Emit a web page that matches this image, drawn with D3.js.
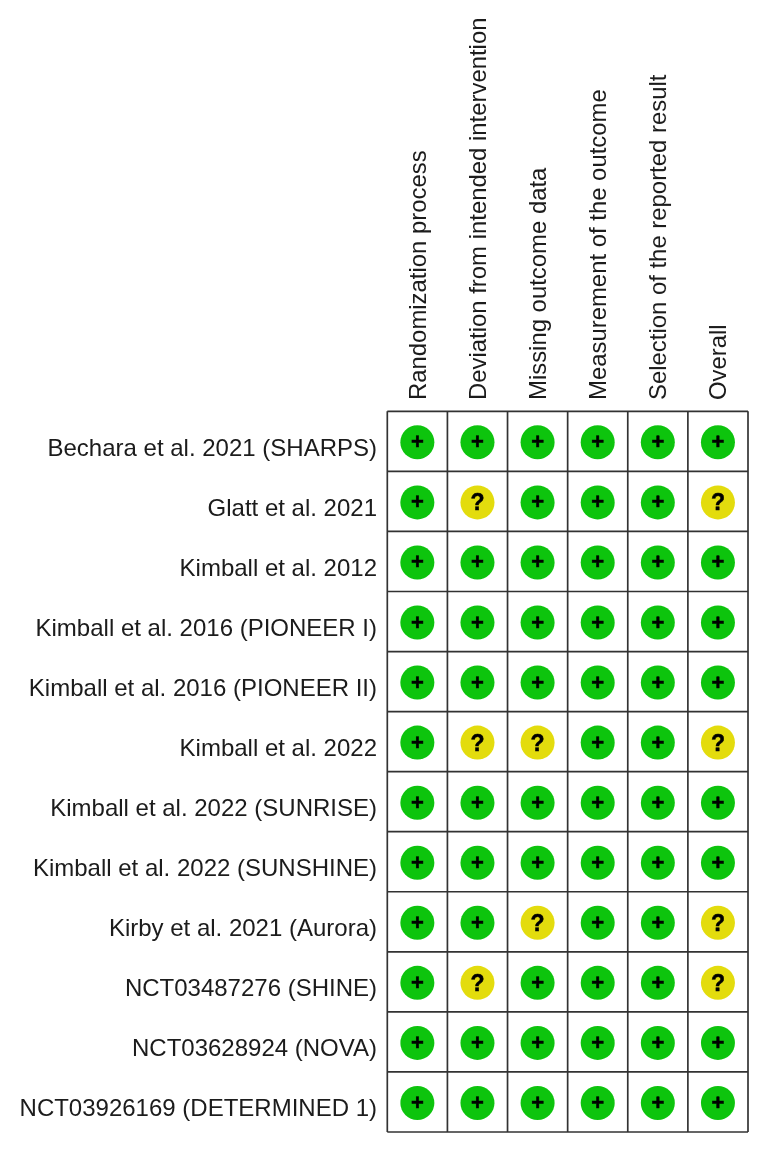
<!DOCTYPE html>
<html>
<head>
<meta charset="utf-8">
<script src="https://cdn.jsdelivr.net/npm/d3@7"></script>
<style>
  html, body { margin: 0; padding: 0; background: #fff; }
  text { font-family: "Liberation Sans", Arial, sans-serif; fill: #1a1a1a; }
</style>
</head>
<body>
<svg id="chart"></svg>
<script>
const width = 771;
const height = 1154;

const domains = [
  "Randomization process",
  "Deviation from intended intervention",
  "Missing outcome data",
  "Measurement of the outcome",
  "Selection of the reported result",
  "Overall"
];

const studies = [
  "Bechara et al. 2021 (SHARPS)",
  "Glatt et al. 2021",
  "Kimball et al. 2012",
  "Kimball et al. 2016 (PIONEER I)",
  "Kimball et al. 2016 (PIONEER II)",
  "Kimball et al. 2022",
  "Kimball et al. 2022 (SUNRISE)",
  "Kimball et al. 2022 (SUNSHINE)",
  "Kirby et al. 2021 (Aurora)",
  "NCT03487276 (SHINE)",
  "NCT03628924 (NOVA)",
  "NCT03926169 (DETERMINED 1)"
];

// one string per study, one symbol per domain
const ratings = [
  "++++++",
  "+?+++?",
  "++++++",
  "++++++",
  "++++++",
  "+??++?",
  "++++++",
  "++++++",
  "++?++?",
  "+?+++?",
  "++++++",
  "++++++"
];

const colors = { "+": "#0cc40c", "?": "#e3dc0c" };

let svg = d3.select("#chart").attr("width", width).attr("height", height);

// the source figure is a soft upscaled raster
svg.append("defs").append("filter")
  .attr("id", "soft")
  .append("feGaussianBlur")
  .attr("stdDeviation", 0.45);

let root = svg.append("g").attr("filter", "url(#soft)");

let x = d3.scaleBand().domain(domains).range([387.3, 748]);
let y = d3.scaleBand().domain(studies).range([411.3, 1132]);

// grid
let grid = root.append("g").attr("stroke", "#333").attr("stroke-width", 1.7);

d3.range(domains.length + 1).forEach((i) => {
  let px = x.range()[0] + i * x.step();
  grid.append("line").attr("x1", px).attr("x2", px).attr("y1", y.range()[0]).attr("y2", y.range()[1]);
});

d3.range(studies.length + 1).forEach((i) => {
  let py = y.range()[0] + i * y.step();
  grid.append("line").attr("x1", x.range()[0]).attr("x2", x.range()[1]).attr("y1", py).attr("y2", py);
});

// study labels
root.selectAll("text.study")
  .data(studies)
  .enter()
  .append("text")
  .attr("class", "study")
  .attr("x", 377)
  .attr("y", (d) => y(d) + y.bandwidth() / 2 + 14.3)
  .attr("text-anchor", "end")
  .attr("font-size", 24)
  .text((d) => d);

// domain labels
root.selectAll("text.domain")
  .data(domains)
  .enter()
  .append("text")
  .attr("class", "domain")
  .attr("transform", (d) => "translate(" + (x(d) + x.bandwidth() / 2 + 8.2) + ",400) rotate(-90)")
  .attr("font-size", 23.9)
  .text((d) => d);

// judgement cells
let cells = [];
studies.forEach((study, r) => {
  domains.forEach((domain, c) => {
    cells.push({ study: study, domain: domain, value: ratings[r][c] });
  });
});

let cell = root.selectAll("g.cell")
  .data(cells)
  .enter()
  .append("g")
  .attr("class", "cell")
  .attr("transform", (d) => "translate(" + (x(d.domain) + x.bandwidth() / 2) + "," + (y(d.study) + y.bandwidth() / 2 + 1) + ")");

cell.append("circle")
  .attr("r", 17)
  .attr("fill", (d) => colors[d.value]);

cell.append("text")
  .attr("text-anchor", "middle")
  .attr("y", (d) => d.value === "+" ? 7 : 8)
  .attr("font-size", (d) => d.value === "+" ? 22 : 23)
  .attr("font-weight", "bold")
  .style("fill", "#000")
  .style("stroke", "#000")
  .style("stroke-width", 0.5)
  .text((d) => d.value);
</script>
</body>
</html>
